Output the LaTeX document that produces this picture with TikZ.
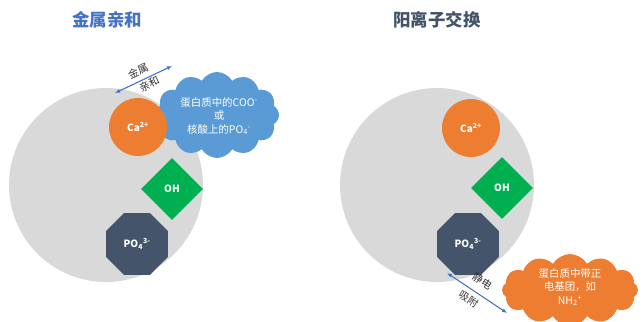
\documentclass[tikz,border=0pt]{standalone}
\usepackage{fontspec}
\setmainfont{Noto Sans CJK SC}
\usetikzlibrary{shapes.symbols,shapes.geometric,arrows.meta}
\definecolor{cgray}{HTML}{D9D9D9}
\definecolor{corange}{HTML}{ED7D31}
\definecolor{cblue}{HTML}{5B9BD5}
\definecolor{cgreen}{HTML}{00B050}
\definecolor{cslate}{HTML}{44546A}
\definecolor{carrow}{HTML}{4472C4}
\tikzset{
  bigball/.style={circle, fill=cgray, minimum size=194bp, inner sep=0pt},
  caion/.style={circle, fill=corange, minimum size=58bp, inner sep=0pt, text=white, font=\fontsize{10}{11}\selectfont\bfseries},
  ohion/.style={diamond, fill=cgreen, minimum width=62bp, minimum height=62bp, inner sep=0pt, text=white, font=\fontsize{10}{11}\selectfont\bfseries},
  poion/.style={regular polygon, regular polygon sides=8, fill=cslate, minimum size=67bp, inner sep=0pt, text=white, font=\fontsize{10}{11}\selectfont\bfseries},
  puff/.style={cloud, cloud puffs=12, cloud puff arc=120, cloud ignores aspect, inner sep=0pt},
  cloudtext/.style={align=center, text=white, font=\fontsize{10.5}{13.5}\selectfont},
  title/.style={font=\fontsize{17.5}{20}\selectfont\bfseries},
  dbl/.style={{Latex[length=5bp,width=4bp]}-{Latex[length=5bp,width=4bp]}, draw=carrow, line width=1.1bp},
  lbl/.style={font=\fontsize{10.5}{12}\selectfont, text=black!80, sloped}
}
\begin{document}
\begin{tikzpicture}[x=1bp,y=-1bp]
\useasboundingbox (0,0) rectangle (642,321);
% titles
\node[title, text=carrow] (t1) at (107,20) {金属亲和};
\node[title, text=cslate] (t2) at (437,20) {阳离子交换};
% left panel
\node[bigball] (b1) at (106,185) {};
\node[puff, fill=cblue, minimum width=124bp, minimum height=86bp] (c1) at (217,115) {};
\node[cloudtext] (c1t) at (219,116) {蛋白质中的COO\textsuperscript{-}\\或\\核酸上的PO\textsubscript{4}\textsuperscript{-}};
\node[caion] (ca1) at (138,127) {Ca\textsuperscript{2+}};
\node[ohion] (oh1) at (172,189) {OH};
\node[poion] (po1) at (137,244) {PO\textsubscript{4}\textsuperscript{3-}};
\coordinate (a1s) at (115,93);
\coordinate (a1e) at (172,66);
\draw[dbl] (a1s) -- node[lbl, above=1bp, pos=0.48] {金属} node[lbl, below, inner sep=1.5bp, pos=0.55] {亲和} (a1e);
% right panel
\node[bigball] (b2) at (437,185) {};
\node[caion] (ca2) at (471,128) {Ca\textsuperscript{2+}};
\node[ohion] (oh2) at (502,188) {OH};
\node[poion] (po2) at (468,244) {PO\textsubscript{4}\textsuperscript{3-}};
\node[puff, fill=corange, minimum width=136bp, minimum height=72bp] (c2) at (570,290) {};
\node[cloudtext] (c2t) at (570,287) {蛋白质中带正\\电基团，如\\NH\textsubscript{2}\textsuperscript{+}};
\coordinate (a2s) at (447,273);
\coordinate (a2e) at (507,313);
\draw[dbl] (a2s) -- node[lbl, above=4bp, pos=0.47] {静电} node[lbl, below=1bp, pos=0.45] {吸附} (a2e);
\end{tikzpicture}
\end{document}
